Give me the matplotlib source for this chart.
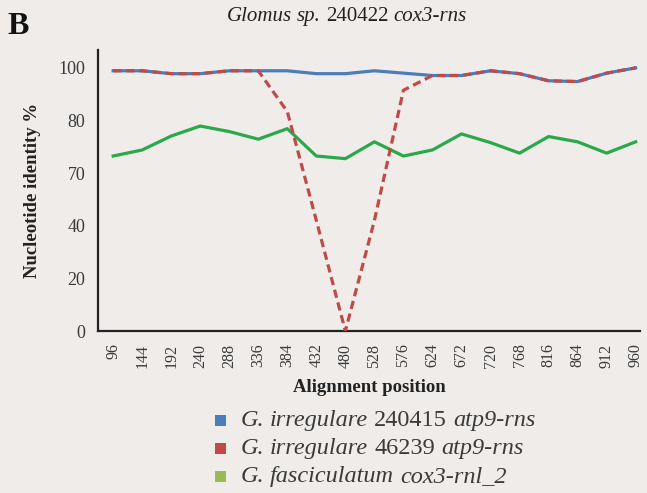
import matplotlib
matplotlib.use("Agg")
import matplotlib.pyplot as plt
from matplotlib.offsetbox import (TextArea, HPacker, VPacker, DrawingArea,
                                  AnchoredOffsetbox)
from matplotlib.patches import Rectangle

plt.rcParams["font.family"] = ["Liberation Serif", "DejaVu Serif"]

# Alignment windows (bp)
positions = [96, 144, 192, 240, 288, 336, 384, 432, 480, 528,
             576, 624, 672, 720, 768, 816, 864, 912, 960]

# Nucleotide identity per window (plotted on the axis' tick scale)
irregulare_240415 = [98.9, 98.9, 97.8, 97.8, 98.9, 98.9, 98.9, 97.8, 97.8, 98.9,
                     98.0, 97.1, 97.1, 98.9, 97.8, 95.1, 94.8, 98.0, 100.0]
irregulare_46239 = [98.9, 98.9, 97.8, 97.8, 98.9, 98.9, 83.4, 42.0, 0.0, 42.0,
                    91.5, 97.1, 97.1, 98.9, 97.8, 95.1, 94.8, 98.0, 100.0]
fasciculatum = [66.5, 68.8, 74.1, 77.9, 75.8, 72.9, 76.9, 66.5, 65.5, 71.9,
                66.5, 68.8, 74.9, 71.6, 67.6, 73.9, 71.9, 67.6, 71.9]

ytick_pos = [0, 20, 40, 60, 80, 100]
ytick_labels = ["0", "20", "40", "70", "80", "100"]

# Word pieces of each label: (text, italic?)
series_labels = [
    [("G.", True), ("irregulare", True), ("240415", False), ("atp9-rns", True)],
    [("G.", True), ("irregulare", True), ("46239", False), ("atp9-rns", True)],
    [("G.", True), ("fasciculatum", True), ("cox3-rnl_2", True)],
]
title_words = [("Glomus", True), ("sp.", True), ("240422", False), ("cox3-rns", True)]

bg = "#efecea"
c_blue = "#4a7ebb"
c_red = "#be4b48"
c_green = "#2aa84a"
legend_colors = ["#4a7ebb", "#be4b48", "#98b954"]
text_col = "#3a3a3a"


def word_row(words, size, color):
    parts = [TextArea(w, textprops=dict(fontsize=size, color=color,
                                        style="italic" if it else "normal"))
             for w, it in words]
    return HPacker(children=parts, pad=0, sep=size * 0.25, align="baseline")


fig = plt.figure(figsize=(6.47, 4.93), dpi=100, facecolor=bg)
ax = fig.add_axes([0.1515, 0.3286, 0.8375, 0.57])
ax.set_facecolor(bg)

ax.plot(positions, fasciculatum, color=c_green, lw=2.3, zorder=2)
ax.plot(positions, irregulare_240415, color=c_blue, lw=2.3, zorder=3)
ax.plot(positions, irregulare_46239, color=c_red, lw=2.3, dashes=(2.6, 1.5), zorder=4)

ax.set_xlim(71, 967)
ax.set_ylim(0, 106.8)
ax.set_xticks(positions)
ax.set_xticklabels([str(p) for p in positions], rotation=90, fontsize=11.5,
                   color=text_col)
ax.set_yticks(ytick_pos)
ax.set_yticklabels(ytick_labels, fontsize=13, color=text_col)
ax.tick_params(axis="both", length=0)
ax.tick_params(axis="x", pad=9)
ax.tick_params(axis="y", pad=9)

for side in ("top", "right"):
    ax.spines[side].set_visible(False)
for side in ("left", "bottom"):
    ax.spines[side].set_color("#222222")
    ax.spines[side].set_linewidth(1.6)

ax.set_ylabel("Nucleotide identity %", fontsize=13.5, fontweight="bold",
              color="#222222", labelpad=13)
ax.set_xlabel("Alignment position", fontsize=13.5, fontweight="bold",
              color="#222222", labelpad=8)

# Title with mixed italic / upright words
title_box = AnchoredOffsetbox(loc="center", child=word_row(title_words, 15, "#222222"),
                              pad=0, borderpad=0, frameon=False,
                              bbox_to_anchor=(0.536, 0.966),
                              bbox_transform=fig.transFigure)
fig.add_artist(title_box)

fig.text(0.012, 0.946, "B", fontsize=23, fontweight="bold", color="#111111",
         ha="left", va="center")

# Legend: coloured squares followed by the species labels
rows = []
for words, col in zip(series_labels, legend_colors):
    da = DrawingArea(7.5, 7.5, 0, 0)
    da.add_artist(Rectangle((0, 0), 7.5, 7.5, facecolor=col, edgecolor="none"))
    rows.append(HPacker(children=[da, word_row(words, 17.5, text_col)],
                        pad=0, sep=10.5, align="center"))
legend_box = VPacker(children=rows, pad=0, sep=5.0, align="left")
fig.add_artist(AnchoredOffsetbox(loc="upper left", child=legend_box, pad=0,
                                 borderpad=0, frameon=False,
                                 bbox_to_anchor=(0.333, 0.168),
                                 bbox_transform=fig.transFigure))

fig.savefig("out.png", dpi=100, facecolor=bg)
